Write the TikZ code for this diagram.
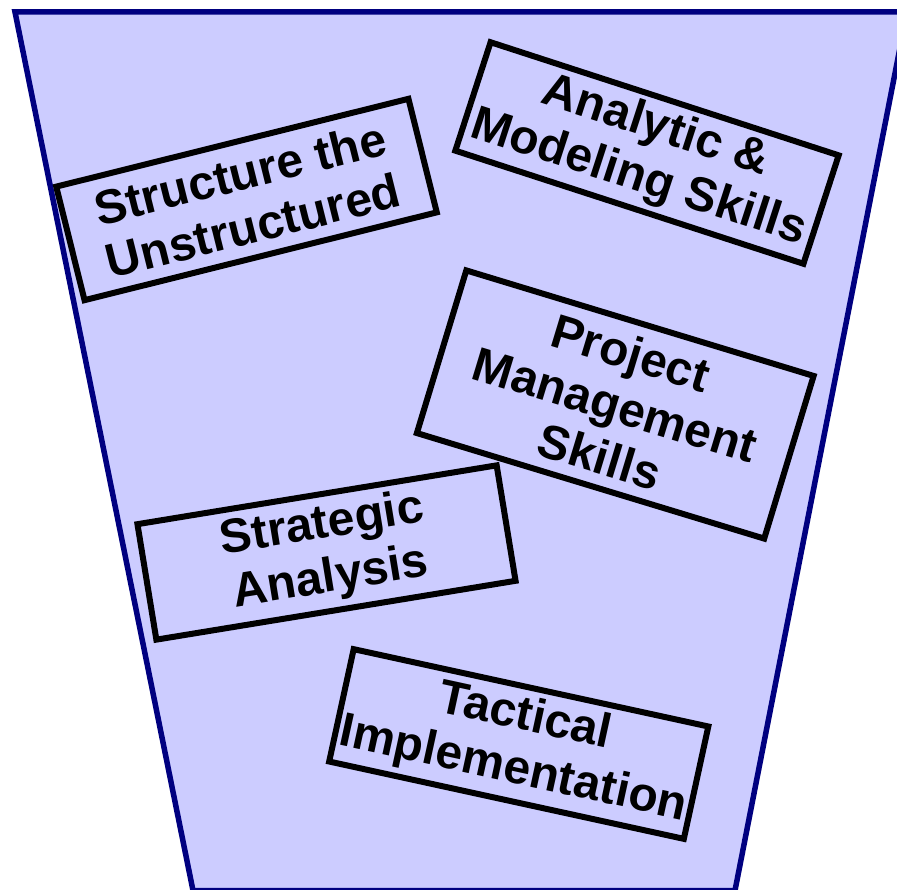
\documentclass[tikz,border=0pt]{standalone}
\usepackage{fontspec}
\setmainfont{Liberation Sans}
\definecolor{funnelfill}{RGB}{204,204,255}
\definecolor{funnelline}{RGB}{0,0,128}
\tikzset{
  skillbox/.style={draw=black, line width=6pt, fill=funnelfill, inner sep=0pt,
    align=center, font=\fontsize{48}{54}\selectfont\bfseries, text=black}
}
\begin{document}
\begin{tikzpicture}[x=1pt,y=-1pt]
\useasboundingbox (0,0) rectangle (897,890);
\begin{scope}
\clip (0,0) rectangle (897,890);
\draw[funnelline, fill=funnelfill, line width=5.5pt, line join=miter]
  (15,12) -- (907,12) -- (735,890.5) -- (193,890.5) -- cycle;
\end{scope}
\node[skillbox, rotate=14, minimum width=363pt, minimum height=117pt] (structure) at (246.5,199.5) {Structure the\\Unstructured};
\node[skillbox, rotate=-18, minimum width=366pt, minimum height=114pt] (analytic) at (647,153) {Analytic \&\\Modeling Skills};
\node[skillbox, rotate=-16.9, minimum width=363pt, minimum height=170pt] (project) at (615.25,404.5) {Project\\Management\\Skills};
\node[skillbox, rotate=9.3, minimum width=364pt, minimum height=117pt] (strategic) at (326.5,552.5) {Strategic\\Analysis};
\node[skillbox, rotate=-12.3, minimum width=363pt, minimum height=115pt] (tactical) at (518.75,744) {Tactical\\Implementation};
\end{tikzpicture}
\end{document}
